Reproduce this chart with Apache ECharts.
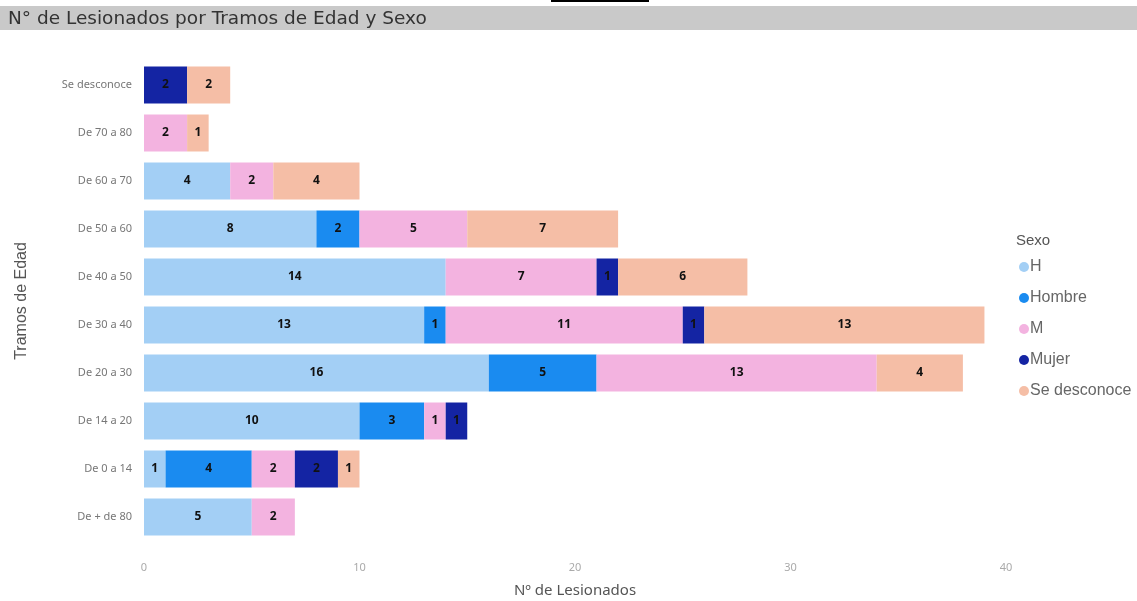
<!DOCTYPE html>
<html lang="es">
<head>
  <meta charset="UTF-8">
  <title>Lesionados por tramos de edad y sexo</title>
  <style>
    html, body { margin: 0; padding: 0; background: #fff; }
    #chart { width: 1137px; height: 601px; }
  </style>
</head>
<body>
<div id="chart"></div>
<script src="https://cdn.jsdelivr.net/npm/echarts@6/dist/echarts.min.js"></script>
<script>
  // categorías de arriba abajo
  const tramos = ['Se desconoce', 'De 70 a 80', 'De 60 a 70', 'De 50 a 60', 'De 40 a 50',
    'De 30 a 40', 'De 20 a 30', 'De 14 a 20', 'De 0 a 14', 'De + de 80'];
  const sexos = ['H', 'Hombre', 'M', 'Mujer', 'Se desconoce'];
  const valH = [0, 0, 4, 8, 14, 13, 16, 10, 1, 5];
  const valHombre = [0, 0, 0, 2, 0, 1, 5, 3, 4, 0];
  const valM = [0, 2, 2, 5, 7, 11, 13, 1, 2, 2];
  const valMujer = [2, 0, 0, 0, 1, 1, 0, 1, 2, 0];
  const valSeDesc = [2, 1, 4, 7, 6, 13, 4, 0, 1, 0];
  const xTicks = [0, 10, 20, 30, 40];

  const colores = ['#a3cff5', '#1a8bf0', '#f3b3e0', '#1424a3', '#f5bea6'];
  const valores = [valH, valHombre, valM, valMujer, valSeDesc];

  const chart = echarts.init(document.getElementById('chart'));
  const font = 'Noto Sans, DejaVu Sans, sans-serif';
  const arial = 'Liberation Sans, Arial, sans-serif';

  const series = sexos.map((s, i) => ({
    name: s,
    type: 'bar',
    stack: 'total',
    barWidth: 37,
    itemStyle: {color: colores[i]},
    label: {
      show: true,
      position: 'inside',
      formatter: p => p.value ? p.value : '',
      color: '#111',
      fontWeight: 'bold',
      fontSize: 12,
      fontFamily: font
    },
    data: valores[i].map(v => v === 0 ? null : v)
  }));

  chart.setOption({
    animation: false,
    textStyle: {fontFamily: font},
    graphic: [
      {type: 'rect', shape: {x: 0, y: 6, width: 1137, height: 24}, style: {fill: '#c9c9c9'}, z: 0},
      {type: 'rect', shape: {x: 551, y: 0, width: 98, height: 2}, style: {fill: '#000'}, z: 1},
      {type: 'text', x: 8, y: 10, style: {text: 'N° de Lesionados por Tramos de Edad y Sexo', fill: '#333', font: '18.5px DejaVu Sans, sans-serif'}, z: 2},
      {type: 'text', x: 1016, y: 233, style: {text: 'Sexo', fill: '#555', font: '15px ' + arial}, z: 2}
    ],
    grid: {left: 144, right: 131, top: 61, bottom: 60, containLabel: false, outerBoundsMode: 'none'},
    legend: {
      orient: 'vertical',
      left: 1014,
      top: 253,
      itemGap: 13,
      itemWidth: 10,
      itemHeight: 10,
      icon: 'circle',
      data: sexos,
      textStyle: {color: '#666', fontSize: 16, lineHeight: 18, fontFamily: arial, padding: [0, 0, 0, -4]}
    },
    xAxis: {
      type: 'value',
      min: 0,
      max: 40,
      interval: 10,
      name: 'Nº de Lesionados',
      nameLocation: 'middle',
      nameGap: 42,
      nameTextStyle: {color: '#555', fontSize: 15},
      axisLine: {show: false},
      axisTick: {show: false},
      splitLine: {show: false},
      axisLabel: {color: '#aaa', fontSize: 11, margin: 21,
        formatter: v => xTicks.indexOf(v) >= 0 ? v : ''}
    },
    yAxis: {
      type: 'category',
      inverse: true,
      data: tramos,
      name: 'Tramos de Edad',
      nameLocation: 'middle',
      nameGap: 114,
      nameRotate: 90,
      nameTextStyle: {color: '#555', fontSize: 16, fontFamily: arial},
      axisLine: {show: false},
      axisTick: {show: false},
      axisLabel: {color: '#777', fontSize: 11, margin: 12}
    },
    series: series
  });
</script>
</body>
</html>
